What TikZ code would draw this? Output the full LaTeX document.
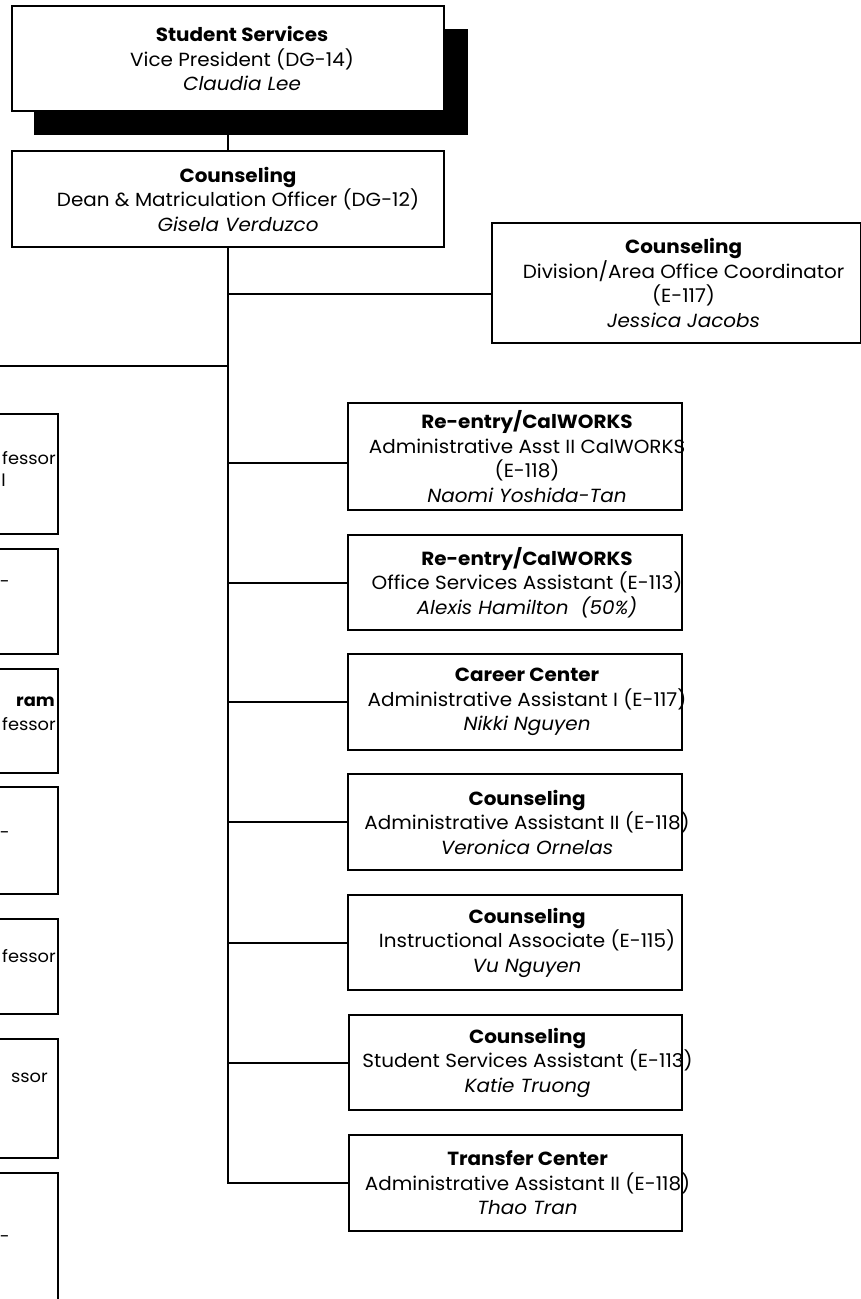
\documentclass[tikz,border=0pt]{standalone}
\usepackage{fontspec}
\setmainfont{Poppins}[FakeStretch=1.05]
\usetikzlibrary{positioning}
\tikzset{
  x=1pt, y=1pt,
  unit/.style={draw, line width=2.1pt, fill=white, inner sep=0pt, anchor=north west},
  shadowbox/.style={fill=black, inner sep=0pt, anchor=north west},
  txt/.style={align=center, inner sep=0pt, font=\fontsize{19}{24.5}\selectfont},
  frag/.style={inner sep=0pt, anchor=base east, font=\fontsize{17}{24.5}\selectfont},
  link/.style={draw, line width=2.1pt},
}

\begin{document}
\begin{tikzpicture}
  \useasboundingbox (0,0) rectangle (861,-1299);

  % head of the division, with its shadow
  \node[shadowbox, minimum width=434, minimum height=106] (vpshadow) at (34,-29) {};
  \node[unit, minimum width=432, minimum height=105] (vp) at (11,-5) {};
  \node[txt] (vp-t) at ([xshift=14]vp.center)
    {\textbf{Student Services}\\Vice President (DG-14)\\\textit{Claudia Lee}};

  \node[unit, minimum width=432, minimum height=96] (dean) at (11,-150) {};
  \node[txt] (dean-t) at ([xshift=10]dean.center)
    {\textbf{Counseling}\\Dean \& Matriculation Officer (DG-12)\\\textit{Gisela Verduzco}};

  \node[unit, minimum width=369, minimum height=120] (coord) at (491,-222) {};
  \node[txt] (coord-t) at ([xshift=7]coord.center)
    {\textbf{Counseling}\\Division/Area Office Coordinator\\(E-117)\\\textit{Jessica Jacobs}};

  % staff column on the right
  \node[unit, minimum width=334, minimum height=107] (reA) at (347,-402) {};
  \node[txt] (reA-t) at ([xshift=12]reA.center)
    {\textbf{Re-entry/CalWORKS}\\Administrative Asst II CalWORKS\\(E-118)\\\textit{Naomi Yoshida-Tan}};

  \node[unit, minimum width=334, minimum height=95] (reB) at (347,-534) {};
  \node[txt] (reB-t) at ([xshift=12]reB.center)
    {\textbf{Re-entry/CalWORKS}\\Office Services Assistant (E-113)\\\textit{Alexis Hamilton\ \ (50\%)}};

  \node[unit, minimum width=334, minimum height=96] (career) at (347,-653) {};
  \node[txt] (career-t) at ([xshift=12]career.center)
    {\textbf{Career Center}\\Administrative Assistant I (E-117)\\\textit{Nikki Nguyen}};

  \node[unit, minimum width=334, minimum height=96] (aaii) at (347,-773) {};
  \node[txt] (aaii-t) at ([xshift=12]aaii.center)
    {\textbf{Counseling}\\Administrative Assistant II (E-118)\\\textit{Veronica Ornelas}};

  \node[unit, minimum width=334, minimum height=95] (instr) at (347,-894) {};
  \node[txt] (instr-t) at ([xshift=12]instr.center)
    {\textbf{Counseling}\\Instructional Associate (E-115)\\\textit{Vu Nguyen}};

  \node[unit, minimum width=333, minimum height=95] (ssa) at (348,-1014) {};
  \node[txt] (ssa-t) at ([xshift=12]ssa.center)
    {\textbf{Counseling}\\Student Services Assistant (E-113)\\\textit{Katie Truong}};

  \node[unit, minimum width=333, minimum height=96] (transfer) at (348,-1134) {};
  \node[txt] (transfer-t) at ([xshift=12]transfer.center)
    {\textbf{Transfer Center}\\Administrative Assistant II (E-118)\\\textit{Thao Tran}};

  % column cut off at the left edge
  \foreach \top/\bot [count=\i] in {413/533, 548/653, 668/772, 786/893, 918/1013, 1038/1157, 1172/1330}
    \node[unit, anchor=north east, minimum width=300, minimum height={\bot-\top}] (left\i) at (59,-\top) {};
  \node[frag] (left1-a) at (56,-464) {fessor};
  \node[frag] (left1-b) at (6,-486) {l};
  \node[frag] (left2-a) at (10,-587) {-};
  \node[frag, font=\fontsize{17}{24.5}\selectfont\bfseries] (left3-a) at (55,-706) {ram};
  \node[frag] (left3-b) at (56,-730) {fessor};
  \node[frag] (left4-a) at (10,-838) {-};
  \node[frag] (left5-a) at (56,-962) {fessor};
  \node[frag] (left6-a) at (48,-1082) {ssor};
  \node[frag] (left7-a) at (10,-1242) {-};

  % connectors
  \coordinate (offleft) at (-20,-366);
  \coordinate (coord-in) at ([yshift=-11]coord.west);
  \coordinate (reA-in) at ([yshift=-6]reA.west);
  \draw[link] (dean.north |- vpshadow.south) -- (dean.north);
  \draw[link] (dean.south) -- (dean.south |- transfer.west) -- (transfer.west);
  \draw[link] (dean.south |- offleft) -- (offleft);
  \draw[link] (dean.south |- coord-in) -- (coord-in);
  \draw[link] (dean.south |- reA-in) -- (reA-in);
  \foreach \n in {reB, career, aaii, instr, ssa}
    \draw[link] (dean.south |- \n.west) -- (\n.west);
\end{tikzpicture}
\end{document}
